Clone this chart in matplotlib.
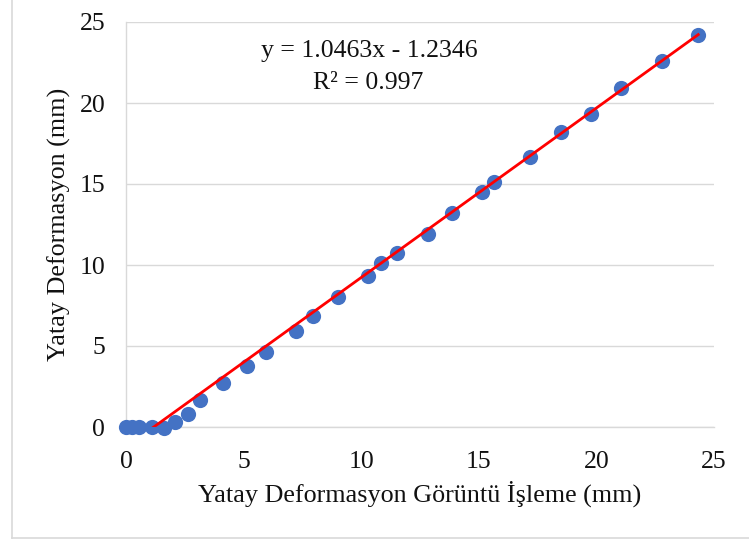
import matplotlib
matplotlib.use("Agg")
import matplotlib.pyplot as plt
from matplotlib.lines import Line2D

# Data
x_vals = [0, 0.25, 0.55, 1.1, 1.6, 2.08, 2.65, 3.15, 4.14, 5.13, 5.94, 7.24, 7.96, 9.0,
          10.3, 10.83, 11.53, 12.85, 13.85, 15.12, 15.66, 17.18, 18.48, 19.77, 21.05, 22.78, 24.33]
y_vals = [0, 0, 0, 0, -0.08, 0.33, 0.8, 1.67, 2.7, 3.78, 4.6, 5.9, 6.87, 8.0,
          9.32, 10.1, 10.76, 11.89, 13.22, 14.49, 15.14, 16.65, 18.19, 19.3, 20.91, 22.59, 24.2]
slope = 1.0463
intercept = -1.2346
r2 = 0.997
ticks = [0, 5, 10, 15, 20, 25]
xlabel = "Yatay Deformasyon Görüntü İşleme (mm)"
ylabel = "Yatay Deformasyon (mm)"

plt.rcParams['font.family'] = ['Liberation Serif', 'DejaVu Serif']

W, H = 749, 545
fig = plt.figure(figsize=(W / 100, H / 100), dpi=100)
ax = fig.add_axes([126 / W, 1 - 427 / H, (714 - 126) / W, (427 - 22) / H])

# Figure border (left and bottom visible)
border = '#D9D9D9'
fig.add_artist(Line2D([12 / W, 12 / W], [1 - 538 / H, 1.0], transform=fig.transFigure, color=border, lw=1.2))
fig.add_artist(Line2D([12 / W, 1.0], [1 - 538 / H, 1 - 538 / H], transform=fig.transFigure, color=border, lw=1.2))

fs = 18.5
tc = '#111111'
ax.set_xlim(0, 25)
ax.set_ylim(0, 25)
ax.set_xticks(ticks)
ax.set_yticks(ticks)
ax.grid(axis='y', color='#D9D9D9', lw=1.0)
ax.set_axisbelow(True)
for s in ['top', 'right']:
    ax.spines[s].set_visible(False)
for s in ['left', 'bottom']:
    ax.spines[s].set_color('#D9D9D9')
    ax.spines[s].set_linewidth(1.0)
ax.tick_params(length=0, labelsize=fs, colors=tc)
ax.tick_params(axis='x', pad=17)
ax.tick_params(axis='y', pad=15)

ax.scatter(x_vals, y_vals, s=120, color='#4472C4', zorder=3, clip_on=False, linewidths=0)
xl = [min(x_vals), max(x_vals)]
yl = [slope * v + intercept for v in xl]
ax.plot(xl, yl, color='#FF0000', lw=2.0, zorder=4)

ax.set_xlabel(xlabel, fontsize=fs + 0.3, color=tc, labelpad=6)
ax.set_ylabel(ylabel, fontsize=fs + 0.3, color=tc, labelpad=6)

fig.text(369 / W, 1 - 51 / H, f"y = {slope}x - {abs(intercept)}", ha='center', va='center', fontsize=fs, color=tc)
fig.text(368 / W, 1 - 83 / H, f"R² = {r2}", ha='center', va='center', fontsize=fs, color=tc)

fig.savefig("out.png", dpi=100, facecolor='white')
